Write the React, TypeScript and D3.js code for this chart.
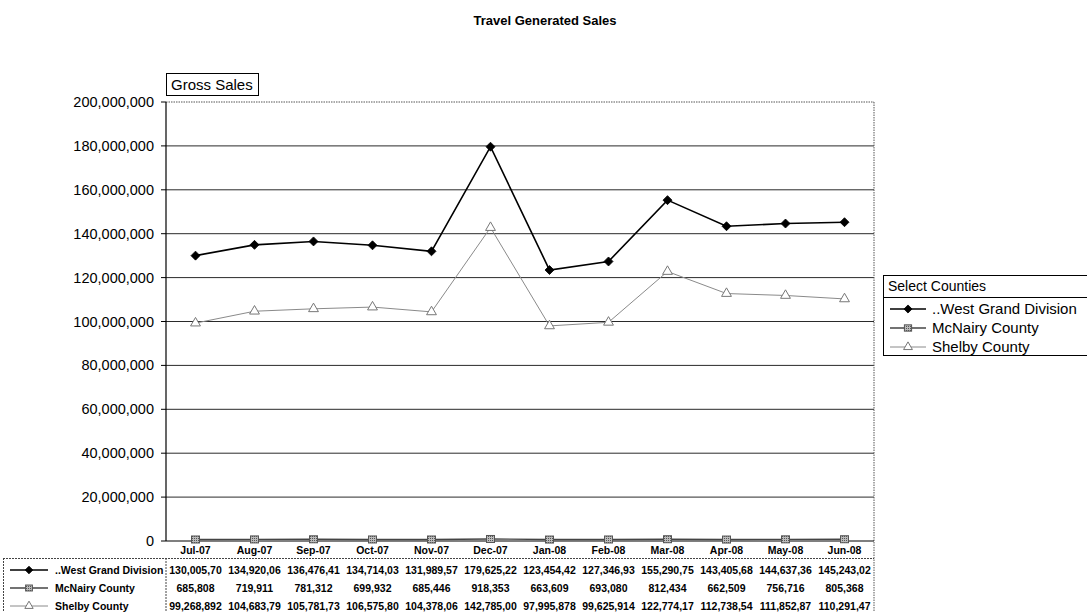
import React from "react";
import * as d3 from "d3";

// Monthly categories and travel-generated gross sales per region
const months = ["Jul-07", "Aug-07", "Sep-07", "Oct-07", "Nov-07", "Dec-07", "Jan-08", "Feb-08", "Mar-08", "Apr-08", "May-08", "Jun-08"];
const westGrand = [130005700, 134920060, 136476410, 134714030, 131989570, 179625220, 123454420, 127346930, 155290750, 143405680, 144637360, 145243020];
const mcNairy = [685808, 719911, 781312, 699932, 685446, 918353, 663609, 693080, 812434, 662509, 756716, 805368];
const shelby = [99268892, 104683790, 105781730, 106575800, 104378060, 142785000, 97995878, 99625914, 122774170, 112738540, 111852870, 110291470];
const yTicks = [0, 20000000, 40000000, 60000000, 80000000, 100000000, 120000000, 140000000, 160000000, 180000000, 200000000];
const seriesNames = ["..West Grand Division", "McNairy County", "Shelby County"];

const W = 1087;
const H = 612;
const left = 166;
const right = 874;
const top = 102;
const bottom = 541;
const FONT = "Arial, 'Liberation Sans', Helvetica, sans-serif";

type Kind = "diamond" | "square" | "triangle";

const series: { name: string; values: number[]; kind: Kind; stroke: string; width: number }[] = [
  { name: seriesNames[0], values: westGrand, kind: "diamond", stroke: "#000", width: 1.6 },
  { name: seriesNames[1], values: mcNairy, kind: "square", stroke: "#444", width: 1.4 },
  { name: seriesNames[2], values: shelby, kind: "triangle", stroke: "#8a8a8a", width: 1 },
];

function Marker({ kind, x, y, s = 1 }: { kind: Kind; x: number; y: number; s?: number }) {
  if (kind === "diamond") {
    const r = 4.5 * s;
    const d = d3.path();
    d.moveTo(0, -r);
    d.lineTo(r, 0);
    d.lineTo(0, r);
    d.lineTo(-r, 0);
    d.closePath();
    return <path d={d.toString()} transform={`translate(${x},${y})`} fill="#000" stroke="#000" strokeWidth={0.8} />;
  }
  if (kind === "square") {
    return <rect x={x - 4 * s} y={y - 3.5 * s} width={8 * s} height={7 * s} fill="url(#hatch)" stroke="#555" strokeWidth={1} />;
  }
  const d = d3.symbol().type(d3.symbolTriangle).size(42 * s * s)();
  return <path d={d || ""} transform={`translate(${x},${y})`} fill="#fff" stroke="#777" strokeWidth={1} />;
}

export default function App() {
  const x = d3.scaleBand<string>().domain(months).range([left, right]).padding(0);
  const y = d3.scaleLinear().domain([0, 200000000]).range([bottom, top]);
  const cx = (m: string) => (x(m) || 0) + x.bandwidth() / 2;
  const line = d3
    .line<number>()
    .x((_, i) => cx(months[i]))
    .y((v) => y(v));
  const fmtTick = d3.format(",");
  const fmtCell = (v: number) => d3.format(",")(Math.round(v)).slice(0, 10);
  const rowY = [570, 588, 606];

  return (
    <svg width={W} height={H} style={{ position: "absolute", left: 0, top: 0, background: "#fff" }}>
      <defs>
        <pattern id="hatch" width="2" height="2" patternUnits="userSpaceOnUse">
          <rect width="2" height="2" fill="#bbb" />
          <rect width="1" height="1" fill="#555" />
        </pattern>
      </defs>
      <rect width={W} height={H} fill="#fff" />

      <text x={545} y={25} textAnchor="middle" fontFamily={FONT} fontWeight="bold" fontSize={13}>
        Travel Generated Sales
      </text>

      {/* gridlines */}
      {yTicks.slice(1, -1).map((t) => (
        <line key={t} x1={left} x2={right} y1={y(t)} y2={y(t)} stroke="#2a2a2a" strokeWidth={1} />
      ))}
      {/* plot border: dotted top and right */}
      <line x1={left} x2={right} y1={y(200000000)} y2={y(200000000)} stroke="#555" strokeDasharray="1.5,1" />
      <line x1={right} x2={right} y1={top} y2={H} stroke="#555" strokeDasharray="1.5,1" />

      {/* y axis */}
      <line x1={left} x2={left} y1={top} y2={bottom} stroke="#000" strokeWidth={1.2} />
      {yTicks.map((t) => (
        <g key={t}>
          <line x1={left - 5} x2={left} y1={y(t)} y2={y(t)} stroke="#000" />
          <text x={154} y={y(t)} dy="0.35em" textAnchor="end" fontFamily={FONT} fontSize={14.5}>
            {fmtTick(t)}
          </text>
        </g>
      ))}
      <line x1={left} x2={right} y1={bottom} y2={bottom} stroke="#000" strokeWidth={1.2} />

      {/* Gross Sales label box */}
      <rect x={166.5} y={73.5} width={92} height={22} fill="#fff" stroke="#000" />
      <text x={171} y={90} fontFamily={FONT} fontSize={15}>
        Gross Sales
      </text>

      {/* series */}
      {[...series].reverse().map((s) => (
        <g key={s.name}>
          <path d={line(s.values) || ""} fill="none" stroke={s.stroke} strokeWidth={s.width} />
          {s.values.map((v, i) => (
            <Marker key={i} kind={s.kind} x={cx(months[i])} y={y(v)} />
          ))}
        </g>
      ))}

      {/* category labels */}
      {months.map((m) => (
        <text key={m} x={cx(m)} y={550} dy="0.35em" textAnchor="middle" fontFamily={FONT} fontWeight="bold" fontSize={10.5}>
          {m}
        </text>
      ))}

      {/* data table */}
      <line x1={3} x2={right} y1={558.5} y2={558.5} stroke="#444" strokeDasharray="2,1" />
      <line x1={3.5} x2={3.5} y1={558} y2={H} stroke="#444" strokeDasharray="2,1" />
      <line x1={left} x2={left} y1={558} y2={H} stroke="#444" strokeDasharray="2,1" />
      {series.map((s, r) => (
        <g key={s.name}>
          <line x1={10} x2={48} y1={rowY[r]} y2={rowY[r]} stroke={s.stroke} strokeWidth={s.width} />
          <Marker kind={s.kind} x={29} y={rowY[r]} s={0.85} />
          <text x={55} y={rowY[r]} dy="0.35em" fontFamily={FONT} fontWeight="bold" fontSize={10.5}>
            {s.name}
          </text>
          {s.values.map((v, i) => (
            <text key={i} x={cx(months[i])} y={rowY[r]} dy="0.35em" textAnchor="middle" fontFamily={FONT} fontWeight="bold" fontSize={10.5}>
              {fmtCell(v)}
            </text>
          ))}
        </g>
      ))}

      {/* legend */}
      <rect x={883.5} y={275.5} width={220} height={80} fill="#fff" stroke="#000" />
      <text x={888} y={291} fontFamily={FONT} fontSize={14}>
        Select Counties
      </text>
      <line x1={883} x2={W} y1={297.5} y2={297.5} stroke="#000" />
      {series.map((s, r) => {
        const ly = 309 + r * 19;
        return (
          <g key={s.name}>
            <line x1={890} x2={926} y1={ly} y2={ly} stroke={s.stroke} strokeWidth={s.width} />
            <Marker kind={s.kind} x={908} y={ly} s={0.9} />
            <text x={932} y={ly} dy="0.35em" fontFamily={FONT} fontSize={15}>
              {s.name}
            </text>
          </g>
        );
      })}
    </svg>
  );
}
